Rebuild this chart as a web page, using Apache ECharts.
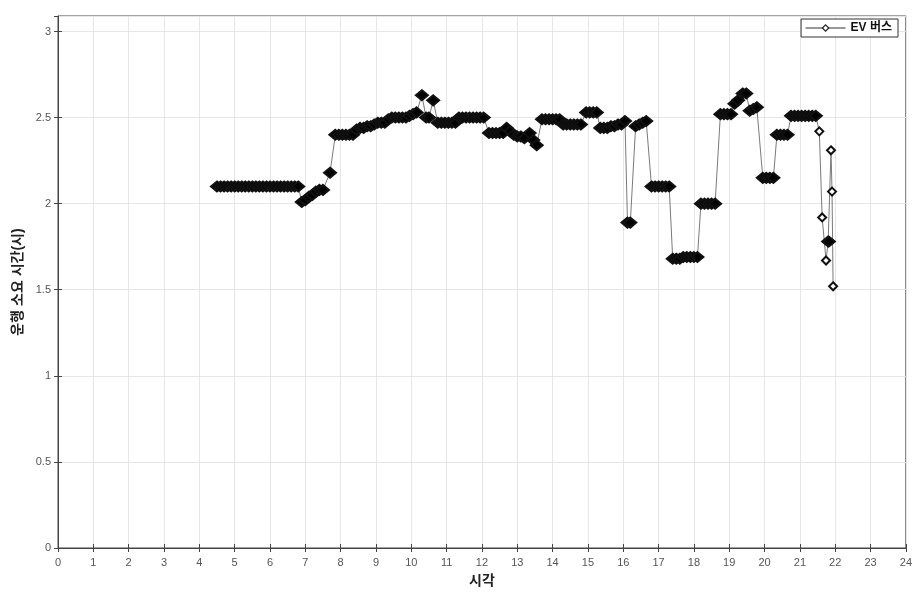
<!DOCTYPE html>
<html>
<head>
<meta charset="utf-8">
<script src="https://cdn.jsdelivr.net/npm/echarts@6/dist/echarts.min.js"></script>
<style>html,body{margin:0;padding:0;background:#fff}#c{width:915px;height:593px}</style>
</head>
<body>
<div id="c"></div>
<script>
// ---- data ----
const seriesName = 'EV 버스';
const xAxisName = '시각';
const yAxisName = '운행 소요 시간(시)';
const xRange = [0, 24];
const yRange = [0, 3.09];

// departure time (hour of day)
const hours = [
  4.5,4.6,4.7,4.8,4.9,5.0,5.1,5.2,5.3,5.4,5.5,5.6,5.7,5.8,5.9,6.0,6.1,6.2,6.3,6.4,6.5,6.6,6.7,6.8,
  6.9,7.0,7.1,7.2,7.3,7.4,7.5,
  7.7,
  7.85,7.95,8.05,8.15,8.25,8.35,
  8.45,8.55,8.65,8.75,8.85,8.95,9.05,9.15,9.25,9.35,
  9.45,9.55,9.65,9.75,9.85,9.95,10.05,10.15,
  10.3,10.42,10.5,10.62,
  10.75,10.85,10.95,11.05,11.15,11.25,
  11.35,11.45,11.55,11.65,11.75,11.85,11.95,12.05,
  12.2,12.3,12.4,12.5,12.6,
  12.7,12.8,12.9,13.0,13.1,13.2,13.35,13.45,13.55,
  13.7,13.8,13.9,14.0,14.1,14.2,
  14.3,14.4,14.5,14.6,14.7,14.8,
  14.95,15.05,15.15,15.25,
  15.35,15.45,15.55,15.65,15.75,15.85,15.95,16.05,
  16.12,16.2,
  16.35,16.45,16.55,16.65,
  16.8,16.9,17.0,17.1,17.2,17.3,
  17.4,17.5,17.6,17.7,17.8,17.9,18.0,18.1,
  18.2,18.3,18.4,18.5,18.6,
  18.75,18.85,18.95,19.05,
  19.15,19.25,19.38,19.48,19.58,19.68,19.78,
  19.95,20.05,20.15,20.25,
  20.35,20.45,20.55,20.65,
  20.75,20.85,20.95,21.05,21.15,21.25,21.35,21.45,
  21.55,21.63,21.74,21.8,21.82,21.88,21.91,21.94
];

// running time (hours)
const runHours = [
  2.10,2.10,2.10,2.10,2.10,2.10,2.10,2.10,2.10,2.10,2.10,2.10,2.10,2.10,2.10,2.10,2.10,2.10,2.10,2.10,2.10,2.10,2.10,2.10,
  2.01,2.02,2.04,2.05,2.07,2.08,2.08,
  2.18,
  2.40,2.40,2.40,2.40,2.40,2.40,
  2.43,2.44,2.44,2.45,2.45,2.46,2.47,2.47,2.47,2.49,
  2.50,2.50,2.50,2.50,2.50,2.51,2.52,2.53,
  2.63,2.50,2.50,2.60,
  2.47,2.47,2.47,2.47,2.47,2.47,
  2.50,2.50,2.50,2.50,2.50,2.50,2.50,2.50,
  2.41,2.41,2.41,2.41,2.41,
  2.44,2.42,2.40,2.39,2.39,2.38,2.41,2.37,2.34,
  2.49,2.49,2.49,2.49,2.49,2.49,
  2.46,2.46,2.46,2.46,2.46,2.46,
  2.53,2.53,2.53,2.53,
  2.44,2.44,2.44,2.45,2.45,2.46,2.46,2.48,
  1.89,1.89,
  2.45,2.46,2.47,2.48,
  2.10,2.10,2.10,2.10,2.10,2.10,
  1.68,1.68,1.68,1.69,1.69,1.69,1.69,1.69,
  2.00,2.00,2.00,2.00,2.00,
  2.52,2.52,2.52,2.52,
  2.58,2.60,2.64,2.64,2.54,2.55,2.56,
  2.15,2.15,2.15,2.15,
  2.40,2.40,2.40,2.40,
  2.51,2.51,2.51,2.51,2.51,2.51,2.51,2.51,
  2.42,1.92,1.67,1.78,1.78,2.31,2.07,1.52
];

// ---- chart ----
const points = hours.map((h, i) => [h, runHours[i]]);
const font = 'Liberation Sans, Arial, Noto Sans CJK KR, sans-serif';
const isSparse = v => v && v[0] > 21.5 && v[1] !== 1.78;
const chart = echarts.init(document.getElementById('c'));
const baseAxis = {
  type: 'value',
  axisLine: { show: true, lineStyle: { color: '#444', width: 1 } },
  axisTick: { show: true, inside: true, length: 4, lineStyle: { color: '#444' } },
  splitLine: { show: true, lineStyle: { color: '#e6e6e6', width: 1 } }
};
chart.setOption({
  animation: false,
  backgroundColor: '#fff',
  textStyle: { fontFamily: font },
  grid: { left: 58, right: 9, top: 16, bottom: 44, show: true, borderColor: '#444', borderWidth: 1 },
  legend: {
    right: 17, top: 19,
    padding: [3, 6, 3, 4],
    itemGap: 4,
    itemWidth: 40, itemHeight: 8,
    backgroundColor: '#fff',
    borderColor: '#333', borderWidth: 1, borderRadius: 0,
    textStyle: { fontFamily: font, fontWeight: 'bold', fontSize: 12, color: '#111' },
    data: [{ name: seriesName, itemStyle: { color: '#fff', borderColor: '#222', borderWidth: 1.2 }, lineStyle: { color: '#333', width: 1 } }]
  },
  xAxis: [
    Object.assign({}, baseAxis, {
      min: xRange[0], max: xRange[1], interval: 1,
      name: xAxisName, nameLocation: 'middle', nameGap: 26,
      nameTextStyle: { fontFamily: font, fontWeight: 'bold', fontSize: 14, color: '#222' },
      axisLabel: { color: '#555', fontSize: 11, margin: 9 }
    }),
    Object.assign({}, baseAxis, {
      position: 'top', min: xRange[0], max: xRange[1], interval: 1,
      axisLine: { show: false }, axisLabel: { show: false }, splitLine: { show: false }
    })
  ],
  yAxis: [
    Object.assign({}, baseAxis, {
      min: yRange[0], max: yRange[1], interval: 0.5,
      name: yAxisName, nameLocation: 'middle', nameGap: 30,
      nameTextStyle: { fontFamily: font, fontWeight: 'bold', fontSize: 14, color: '#222' },
      axisLabel: { color: '#555', fontSize: 11, margin: 7, showMaxLabel: false }
    }),
    Object.assign({}, baseAxis, {
      position: 'right', min: yRange[0], max: yRange[1], interval: 0.5,
      axisLine: { show: false }, axisLabel: { show: false }, splitLine: { show: false }
    })
  ],
  series: [{
    name: seriesName,
    type: 'line',
    xAxisIndex: 0, yAxisIndex: 0,
    data: points,
    symbol: 'diamond',
    symbolSize: v => isSparse(v) ? [8, 8] : [12, 10],
    showAllSymbol: true,
    lineStyle: { color: '#7a7a7a', width: 1 },
    itemStyle: {
      color: p => isSparse(p.value) ? '#fff' : '#000',
      borderColor: '#111',
      borderWidth: 2
    },
    emphasis: { disabled: true }
  }]
});
</script>
</body>
</html>
